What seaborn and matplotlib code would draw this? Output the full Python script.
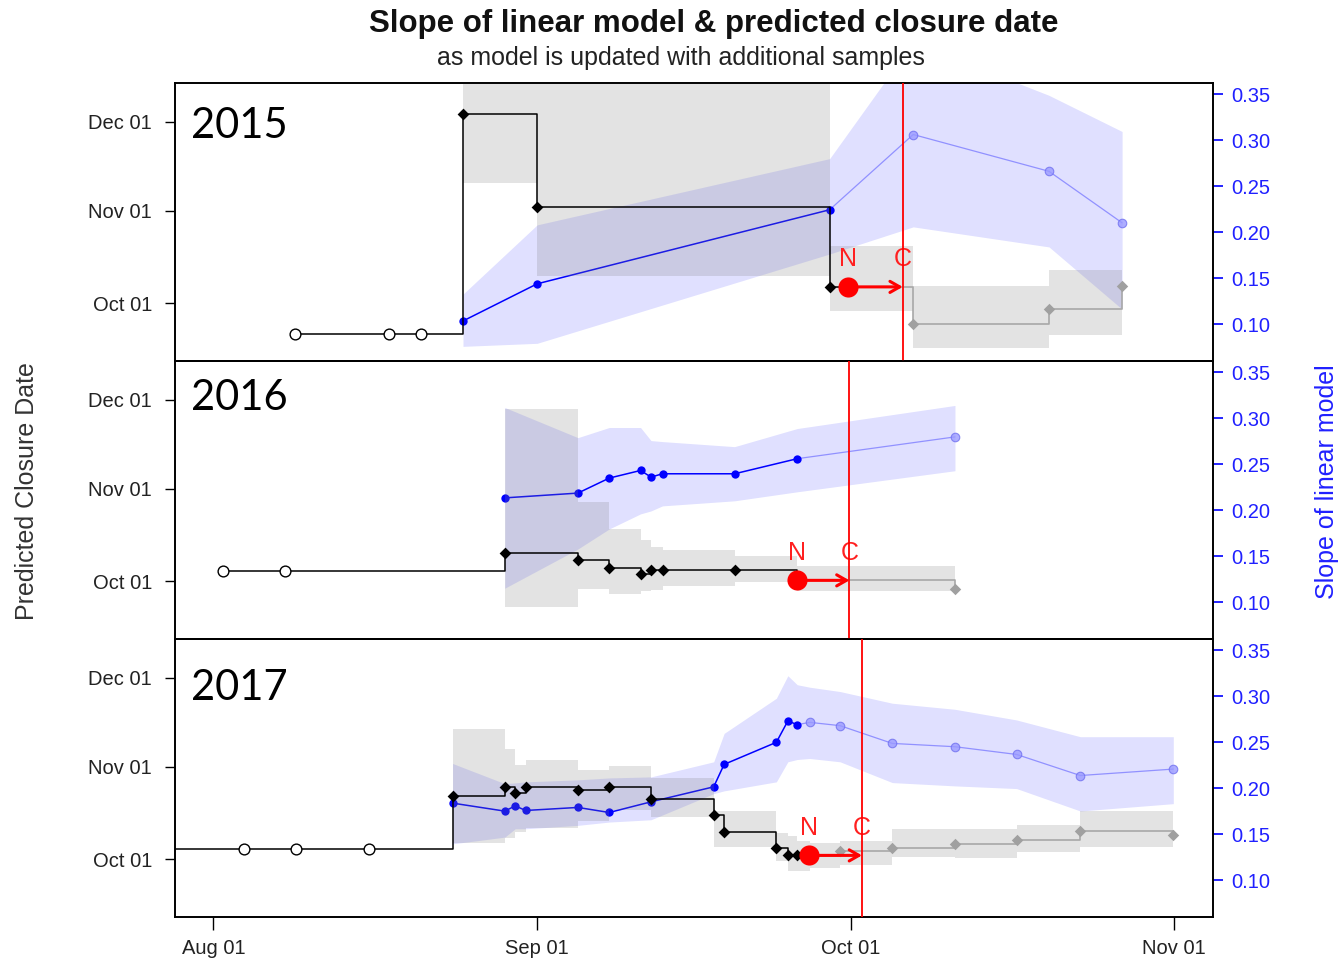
import matplotlib
matplotlib.use("Agg")
import matplotlib.pyplot as plt
import seaborn as sns

sns.set_style("ticks")
plt.rcParams['font.family'] = ['Liberation Sans', 'DejaVu Sans']

# x: sample date, days since Aug 01 of the season
# closure values: predicted closure date, days since Aug 01
month_ticks = [0, 31, 61, 92]
month_labels = ["Aug 01", "Sep 01", "Oct 01", "Nov 01"]
close_ticks = [61, 92, 122]
close_labels = ["Oct 01", "Nov 01", "Dec 01"]
slope_ticks = [0.10, 0.15, 0.20, 0.25, 0.30, 0.35]
years = ["2015", "2016", "2017"]

# ---- 2015 ----
pre_t_2015 = [7.8, 16.8, 19.9]
base_2015 = 50.7
obs_t_2015 = [23.9, 31.0, 59.0]
obs_close_2015 = [124.5, 93.3, 66.5]
obs_lo_2015 = [101.4, 70.2, 58.4]
obs_hi_2015 = [150.0, 145.0, 80.2]
obs_slope_2015 = [0.1036, 0.1440, 0.2245]
obs_slope_lo_2015 = [0.0760, 0.0793, 0.1764]
obs_slope_hi_2015 = [0.1328, 0.2081, 0.2801]
now_2015 = (60.8, 66.5)
closure_2015 = 66.0
fc_t_2015 = [67.0, 80.0, 87.0]
fc_close_2015 = [54.0, 59.1, 66.9]
fc_lo_2015 = [46.0, 50.4, 60.0]
fc_hi_2015 = [66.8, 72.2, 75.0]
fc_slope_2015 = [0.3063, 0.2663, 0.2103]
fc_slope_lo_2015 = [0.2059, 0.1841, 0.1164]
fc_slope_hi_2015 = [0.4068, 0.3489, 0.3096]

# ---- 2016 ----
pre_t_2016 = [0.9, 6.9]
base_2016 = 64.5
obs_t_2016 = [27.9, 34.9, 37.9, 40.9, 41.9, 43.0, 49.9, 55.9]
obs_close_2016 = [70.6, 68.3, 65.5, 63.4, 64.7, 64.7, 64.7, 61.3]
obs_lo_2016 = [52.2, 58.3, 56.6, 57.6, 58.0, 59.3, 60.7, 57.6]
obs_hi_2016 = [118.9, 87.6, 78.5, 74.8, 72.4, 71.4, 69.4, 66.1]
obs_slope_2016 = [0.2135, 0.2187, 0.2350, 0.2433, 0.2361, 0.2397, 0.2397, 0.2561]
obs_slope_lo_2016 = [0.1153, 0.1579, 0.1797, 0.1961, 0.1993, 0.2048, 0.2103, 0.2201]
obs_slope_hi_2016 = [0.3118, 0.2790, 0.2900, 0.2900, 0.2758, 0.2747, 0.2692, 0.2889]
now_2016 = (55.9, 61.3)
closure_2016 = 60.9
fc_t_2016 = [71.0]
fc_close_2016 = [58.3]
fc_lo_2016 = [52.0]
fc_hi_2016 = [64.0]
fc_slope_2016 = [0.2798]
fc_slope_lo_2016 = [0.2430]
fc_slope_hi_2016 = [0.3140]

# ---- 2017 ----
pre_t_2017 = [-4.6, 2.9, 7.9, 14.9]
base_2017 = 64.4
obs_t_2017 = [22.9, 27.9, 28.9, 29.9, 34.9, 37.9, 41.9, 47.9, 48.9, 53.9, 55.0, 55.9]
obs_close_2017 = [82.2, 85.2, 83.1, 85.3, 84.4, 85.3, 81.1, 76.0, 70.2, 64.8, 62.3, 62.3]
obs_lo_2017 = [66.3, 68.3, 70.3, 71.6, 73.7, 77.7, 75.2, 65.0, 65.0, 60.3, 57.0, 57.0]
obs_hi_2017 = [104.6, 98.1, 92.6, 94.3, 91.1, 92.2, 88.3, 77.1, 77.1, 69.9, 68.7, 67.0]
obs_slope_2017 = [0.1839, 0.1752, 0.1809, 0.1759, 0.1792, 0.1737, 0.1853, 0.2016,
                  0.2260, 0.2500, 0.2732, 0.2692]
obs_slope_lo_2017 = [0.1396, 0.1469, 0.1560, 0.1560, 0.1597, 0.1633, 0.1658, 0.1942,
                     0.1972, 0.2070, 0.2288, 0.2313]
obs_slope_hi_2017 = [0.2270, 0.2051, 0.2059, 0.2070, 0.2092, 0.2113, 0.2124, 0.2288,
                     0.2597, 0.2979, 0.3224, 0.3126]
now_2017 = (57.0, 62.3)
closure_2017 = 62.1
fc_t_2017 = [57.1, 60.0, 65.0, 71.0, 76.9, 83.0, 91.9]
fc_close_2017 = [62.2, 63.8, 64.9, 66.0, 67.5, 70.5, 69.3]
fc_lo_2017 = [58.2, 59.0, 61.6, 61.3, 63.5, 65.2, 65.0]
fc_hi_2017 = [66.6, 67.0, 71.3, 71.3, 72.6, 77.3, 77.0]
fc_slope_2017 = [0.2717, 0.2681, 0.2488, 0.2452, 0.2368, 0.2139, 0.2209]
fc_slope_lo_2017 = [0.2324, 0.2288, 0.2062, 0.2026, 0.1997, 0.1753, 0.1833]
fc_slope_hi_2017 = [0.3099, 0.3052, 0.2925, 0.2859, 0.2743, 0.2561, 0.2561]

panels = [
    (pre_t_2015, base_2015, obs_t_2015, obs_close_2015, obs_lo_2015, obs_hi_2015,
     obs_slope_2015, obs_slope_lo_2015, obs_slope_hi_2015, now_2015, closure_2015,
     fc_t_2015, fc_close_2015, fc_lo_2015, fc_hi_2015,
     fc_slope_2015, fc_slope_lo_2015, fc_slope_hi_2015),
    (pre_t_2016, base_2016, obs_t_2016, obs_close_2016, obs_lo_2016, obs_hi_2016,
     obs_slope_2016, obs_slope_lo_2016, obs_slope_hi_2016, now_2016, closure_2016,
     fc_t_2016, fc_close_2016, fc_lo_2016, fc_hi_2016,
     fc_slope_2016, fc_slope_lo_2016, fc_slope_hi_2016),
    (pre_t_2017, base_2017, obs_t_2017, obs_close_2017, obs_lo_2017, obs_hi_2017,
     obs_slope_2017, obs_slope_lo_2017, obs_slope_hi_2017, now_2017, closure_2017,
     fc_t_2017, fc_close_2017, fc_lo_2017, fc_hi_2017,
     fc_slope_2017, fc_slope_lo_2017, fc_slope_hi_2017),
]
year_y = [0.801, 0.824, 0.782]

fig = plt.figure(figsize=(13.43, 9.6), dpi=100)
left, width, height = 0.1303, 0.7729, 0.28958
bottoms = [0.62396, 0.33438, 0.04479]

for i, p in enumerate(panels):
    (pre_t, base, obs_t, obs_c, obs_lo, obs_hi, obs_s, obs_slo, obs_shi, now, closure,
     fc_t, fc_c, fc_lo, fc_hi, fc_s, fc_slo, fc_shi) = p

    ax = fig.add_axes([left, bottoms[i], width, height])
    ax2 = ax.twinx()
    ax.set_zorder(ax2.get_zorder() + 1)
    ax.patch.set_visible(False)

    t_all = obs_t + fc_t

    # slope of linear model (right axis)
    ax2.fill_between(t_all, obs_slo + fc_slo, obs_shi + fc_shi,
                     color=(0, 0, 1), alpha=0.12, lw=0)
    sns.lineplot(x=[obs_t[-1]] + fc_t, y=[obs_s[-1]] + fc_s, color="#7777ff", alpha=0.75,
                 lw=0.9, estimator=None, sort=False, ax=ax2)
    sns.scatterplot(x=fc_t, y=fc_s, color="#9a9aff", edgecolor="#7070f0", linewidth=0.8,
                    s=38, alpha=0.8, ax=ax2, zorder=4)
    sns.lineplot(x=obs_t, y=obs_s, color="blue", lw=1.1, estimator=None, sort=False, ax=ax2)
    sns.scatterplot(x=obs_t, y=obs_s, color="blue", s=36, linewidth=0, ax=ax2, zorder=5)

    # predicted closure date (left axis)
    ax.fill_between(t_all, obs_lo + fc_lo, obs_hi + fc_hi, step="post",
                    color="0.5", alpha=0.22, lw=0)
    sns.lineplot(x=[now[0]] + fc_t, y=[now[1]] + fc_c, drawstyle="steps-post",
                 color="#a8a8a8", lw=1.2, estimator=None, sort=False, ax=ax)
    sns.scatterplot(x=fc_t, y=fc_c, marker="D", color="#a0a0a0", s=34, linewidth=0,
                    ax=ax, zorder=4)
    sns.lineplot(x=pre_t + obs_t + [now[0]], y=[base] * len(pre_t) + obs_c + [now[1]],
                 drawstyle="steps-post", color="black", lw=1.1, estimator=None,
                 sort=False, ax=ax)
    sns.scatterplot(x=obs_t, y=obs_c, marker="D", color="black", s=36, linewidth=0,
                    ax=ax, zorder=5)
    sns.scatterplot(x=pre_t, y=[base] * len(pre_t), marker="o", color="white",
                    edgecolor="black", linewidth=1.0, s=60, ax=ax, zorder=5)

    # now / closure markers
    ax.axvline(closure, color="red", lw=1.3, zorder=6)
    ax.annotate("", xy=(closure, now[1]), xytext=(now[0], now[1]),
                arrowprops=dict(arrowstyle="->,head_length=0.7,head_width=0.4",
                                color="red", lw=2.2, shrinkA=0, shrinkB=0), zorder=7)
    ax.scatter([now[0]], [now[1]], s=210, color="red", linewidths=0, zorder=8)
    ax.annotate("N", (now[0], now[1]), xytext=(0, 20), textcoords="offset points",
                ha="center", va="center", color="#ff2020", fontsize=18)
    ax.annotate("C", (closure, now[1]), xytext=(0, 20), textcoords="offset points",
                ha="center", va="center", color="#ff2020", fontsize=18)

    ax.text(0.0151, year_y[i], years[i], transform=ax.transAxes, fontsize=30,
            family=["Lato", "DejaVu Sans"], va="baseline", ha="left", color="black")

    ax.set_xlim(-3.67, 95.7)
    ax.set_ylim(41.6, 135.0)
    ax2.set_ylim(0.0601, 0.3623)
    ax.set_xlabel("")
    ax.set_ylabel("")
    ax2.set_ylabel("")

    ax.set_yticks(close_ticks, close_labels)
    ax.tick_params(axis="y", length=7.5, width=1, labelsize=14.5, pad=9,
                   colors="black", labelcolor="#222222")
    ax2.set_yticks(slope_ticks, [f"{v:.2f}" for v in slope_ticks])
    ax2.tick_params(axis="y", length=7.5, width=1.2, labelsize=14.5, pad=6,
                    colors="blue", labelcolor="#2020ff")
    ax.set_xticks(month_ticks, month_labels)
    if i < 2:
        ax.tick_params(axis="x", bottom=False, labelbottom=False)
    else:
        ax.tick_params(axis="x", length=9, width=1, labelsize=14.5, pad=7,
                       colors="black", labelcolor="#222222")
    for a in (ax, ax2):
        for s in a.spines.values():
            s.set_visible(True)
            s.set_color("black")
            s.set_linewidth(1.2)

fig.text(0.5317, 0.975, "Slope of linear model & predicted closure date",
         ha="center", va="center", fontsize=22.5, fontweight="bold", color="#111111")
fig.text(0.507, 0.9396, "as model is updated with additional samples",
         ha="center", va="center", fontsize=18, color="#222222")
fig.text(0.02, 0.4885, "Predicted Closure Date", rotation=90, ha="center", va="center",
         fontsize=18, color="#333333")
fig.text(0.988, 0.4979, "Slope of linear model", rotation=90, ha="center", va="center",
         fontsize=18, color="#2020ff")

fig.savefig("out.png", dpi=100)
